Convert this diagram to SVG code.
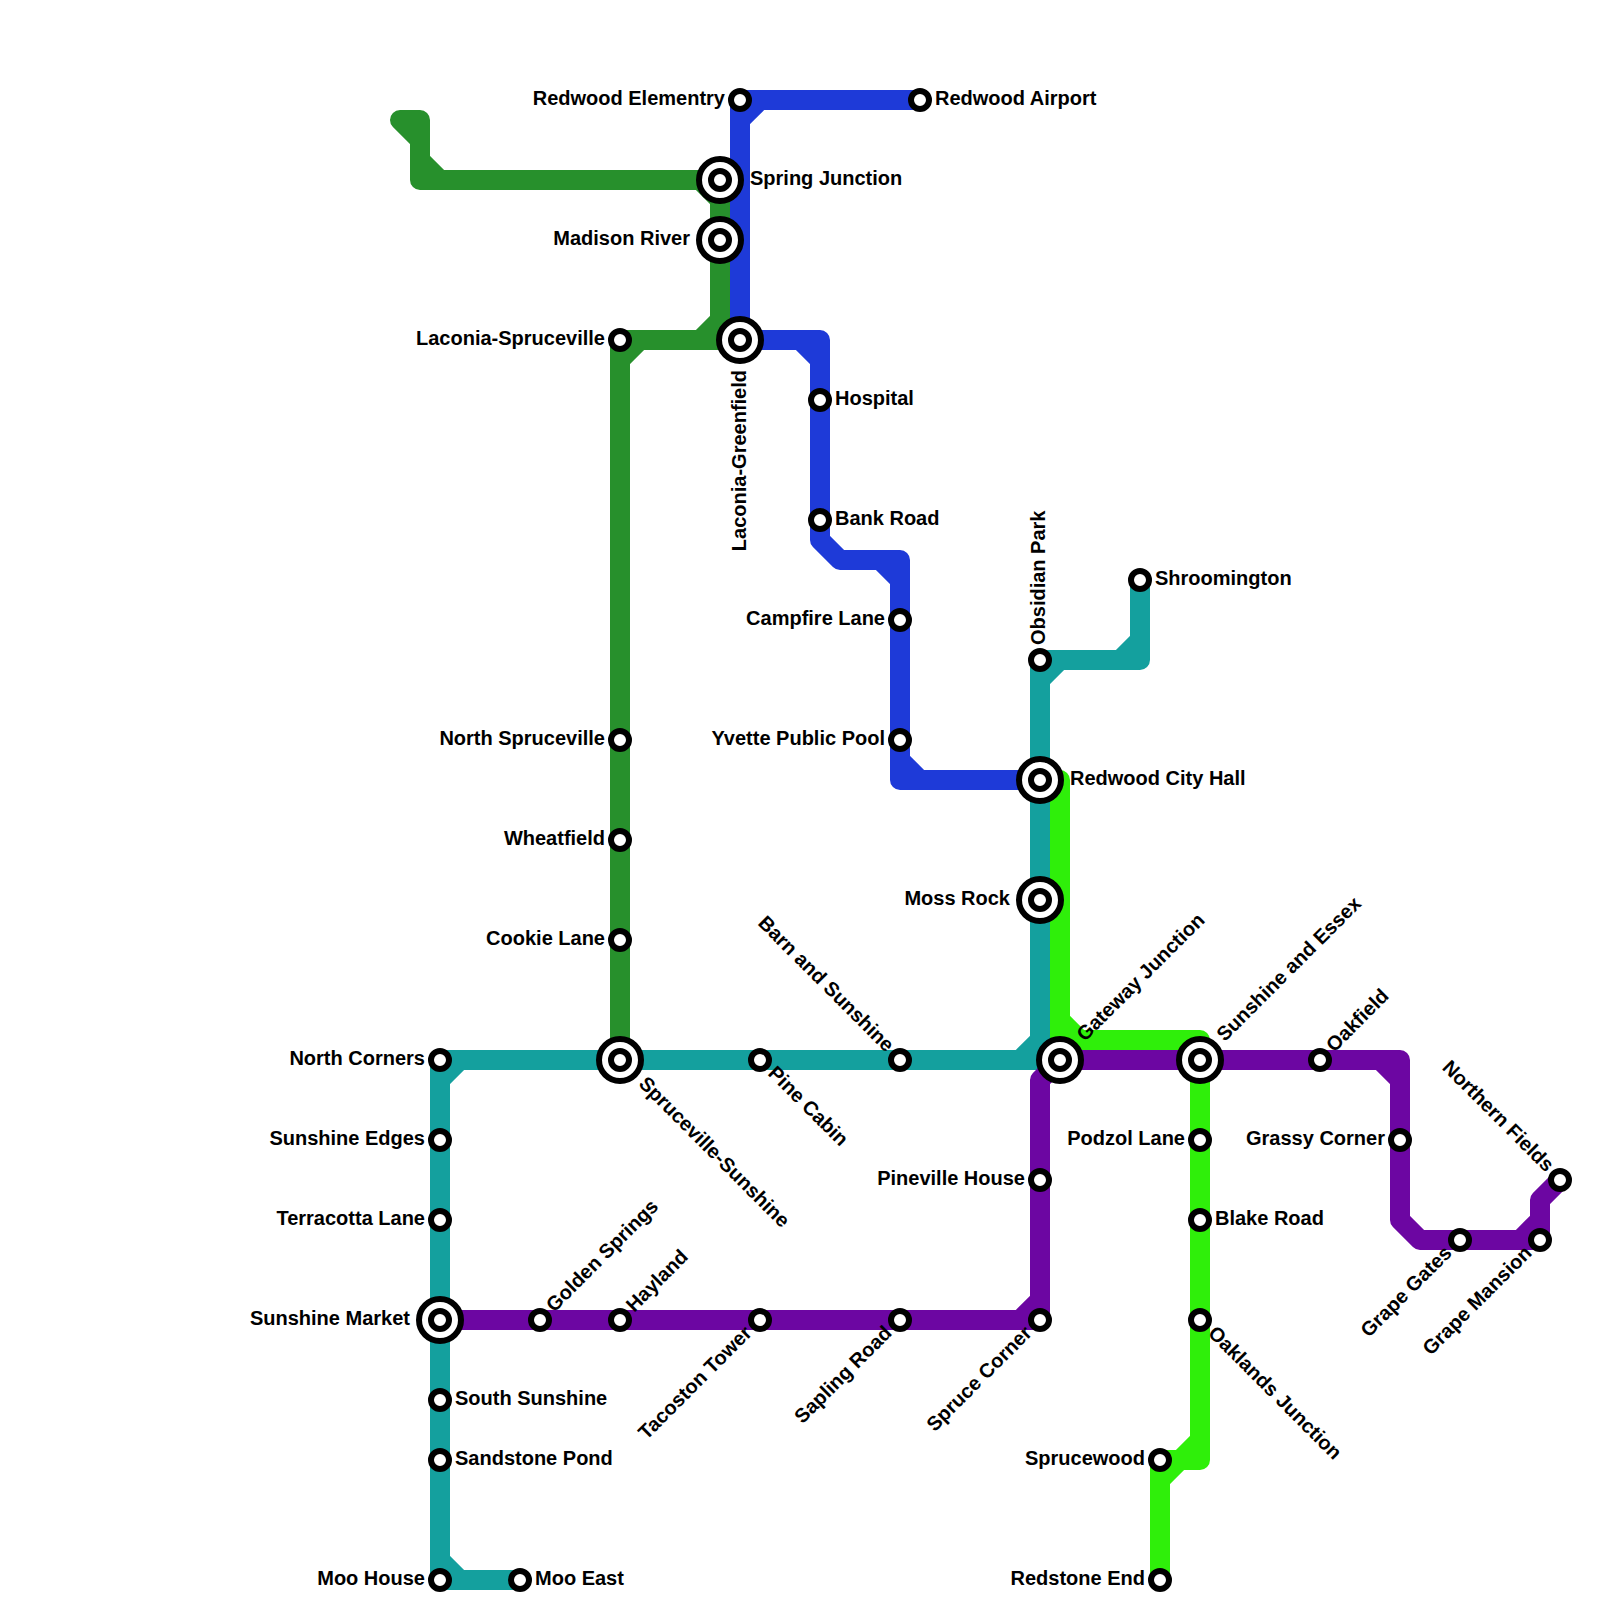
<svg xmlns="http://www.w3.org/2000/svg" width="1600" height="1600" viewBox="0 0 1600 1600">
<style>
.l{fill:none;stroke-width:20;stroke-linejoin:round;stroke-linecap:round}
.s{fill:#fff;stroke:#000;stroke-width:6}
text{font-family:"Liberation Sans",Arial,sans-serif;font-weight:bold;font-size:20px;fill:#000}
.e{text-anchor:end}
</style>
<rect width="1600" height="1600" fill="#fff"/>
<g id="connectors">
<path id="line-dark-green" class="l" stroke="#27902c" d="M720 180V340H620V1060M720 180H420V120H400L420 140M420 160L440 180M700 180L720 200M720 320L700 340M640 340L620 360"/>
<path id="line-blue" class="l" stroke="#1e3ad8" d="M920 100H740V340H820V540L840 560H900V780H1040M760 100L740 120M800 340L820 360M880 560L900 580M900 760L920 780"/>
<path id="line-teal" class="l" stroke="#14a09e" d="M520 1580H440V1060H1040V660H1140V580M440 1560L460 1580M460 1060L440 1080M1020 1060L1040 1040M1040 680L1060 660M1120 660L1140 640"/>
<path id="line-lime" class="l" stroke="#2fef0a" d="M1060 780V1040H1200V1460H1160V1580M1060 1020L1080 1040M1200 1440L1180 1460M1180 1460L1160 1480"/>
<path id="line-purple" class="l" stroke="#6c06a2" d="M440 1320H1040V1080L1060 1060H1400V1220L1420 1240H1540V1200L1560 1180M1020 1320L1040 1300M1380 1060L1400 1080M1520 1240L1540 1220"/>
</g>
<g id="stations">
<defs>
<g id="m"><circle class="s" r="9"/></g>
<g id="x"><circle class="s" r="21"/><circle class="s" r="9"/></g>
</defs>
<g id="spring-junction" transform="translate(720 180)"><use href="#x"/><text x="30" y="5">Spring Junction</text></g>
<g id="madison-river" transform="translate(720 240)"><use href="#x"/><text class="e" x="-30" y="5">Madison River</text></g>
<g id="laconia-greenfield" transform="translate(740 340)"><use href="#x"/><text class="e" transform="rotate(-90)" x="-30" y="6">Laconia-Greenfield</text></g>
<g id="redwood-city-hall" transform="translate(1040 780)"><use href="#x"/><text x="30" y="5">Redwood City Hall</text></g>
<g id="moss-rock" transform="translate(1040 900)"><use href="#x"/><text class="e" x="-30" y="5">Moss Rock</text></g>
<g id="gateway-junction" transform="translate(1060 1060)"><use href="#x"/><text transform="rotate(-45)" x="30" y="5">Gateway Junction</text></g>
<g id="sunshine-and-essex" transform="translate(1200 1060)"><use href="#x"/><text transform="rotate(-45)" x="30" y="5">Sunshine and Essex</text></g>
<g id="spruceville-sunshine" transform="translate(620 1060)"><use href="#x"/><text transform="rotate(45)" x="30" y="5">Spruceville-Sunshine</text></g>
<g id="sunshine-market" transform="translate(440 1320)"><use href="#x"/><text class="e" x="-30" y="5">Sunshine Market</text></g>
<g id="redwood-elementry" transform="translate(740 100)"><use href="#m"/><text class="e" x="-15" y="5">Redwood Elementry</text></g>
<g id="redwood-airport" transform="translate(920 100)"><use href="#m"/><text x="15" y="5">Redwood Airport</text></g>
<g id="laconia-spruceville" transform="translate(620 340)"><use href="#m"/><text class="e" x="-15" y="5">Laconia-Spruceville</text></g>
<g id="north-spruceville" transform="translate(620 740)"><use href="#m"/><text class="e" x="-15" y="5">North Spruceville</text></g>
<g id="wheatfield" transform="translate(620 840)"><use href="#m"/><text class="e" x="-15" y="5">Wheatfield</text></g>
<g id="cookie-lane" transform="translate(620 940)"><use href="#m"/><text class="e" x="-15" y="5">Cookie Lane</text></g>
<g id="hospital" transform="translate(820 400)"><use href="#m"/><text x="15" y="5">Hospital</text></g>
<g id="bank-road" transform="translate(820 520)"><use href="#m"/><text x="15" y="5">Bank Road</text></g>
<g id="campfire-lane" transform="translate(900 620)"><use href="#m"/><text class="e" x="-15" y="5">Campfire Lane</text></g>
<g id="yvette-public-pool" transform="translate(900 740)"><use href="#m"/><text class="e" x="-15" y="5">Yvette Public Pool</text></g>
<g id="obsidian-park" transform="translate(1040 660)"><use href="#m"/><text transform="rotate(-90)" x="15" y="5">Obsidian Park</text></g>
<g id="shroomington" transform="translate(1140 580)"><use href="#m"/><text x="15" y="5">Shroomington</text></g>
<g id="pine-cabin" transform="translate(760 1060)"><use href="#m"/><text transform="rotate(45)" x="15" y="5">Pine Cabin</text></g>
<g id="barn-and-sunshine" transform="translate(900 1060)"><use href="#m"/><text class="e" transform="rotate(45)" x="-15" y="5">Barn and Sunshine</text></g>
<g id="north-corners" transform="translate(440 1060)"><use href="#m"/><text class="e" x="-15" y="5">North Corners</text></g>
<g id="sunshine-edges" transform="translate(440 1140)"><use href="#m"/><text class="e" x="-15" y="5">Sunshine Edges</text></g>
<g id="terracotta-lane" transform="translate(440 1220)"><use href="#m"/><text class="e" x="-15" y="5">Terracotta Lane</text></g>
<g id="south-sunshine" transform="translate(440 1400)"><use href="#m"/><text x="15" y="5">South Sunshine</text></g>
<g id="sandstone-pond" transform="translate(440 1460)"><use href="#m"/><text x="15" y="5">Sandstone Pond</text></g>
<g id="moo-house" transform="translate(440 1580)"><use href="#m"/><text class="e" x="-15" y="5">Moo House</text></g>
<g id="moo-east" transform="translate(520 1580)"><use href="#m"/><text x="15" y="5">Moo East</text></g>
<g id="golden-springs" transform="translate(540 1320)"><use href="#m"/><text transform="rotate(-45)" x="15" y="5">Golden Springs</text></g>
<g id="hayland" transform="translate(620 1320)"><use href="#m"/><text transform="rotate(-45)" x="15" y="5">Hayland</text></g>
<g id="tacoston-tower" transform="translate(760 1320)"><use href="#m"/><text class="e" transform="rotate(-45)" x="-15" y="5">Tacoston Tower</text></g>
<g id="sapling-road" transform="translate(900 1320)"><use href="#m"/><text class="e" transform="rotate(-45)" x="-15" y="5">Sapling Road</text></g>
<g id="spruce-corner" transform="translate(1040 1320)"><use href="#m"/><text class="e" transform="rotate(-45)" x="-15" y="5">Spruce Corner</text></g>
<g id="pineville-house" transform="translate(1040 1180)"><use href="#m"/><text class="e" x="-15" y="5">Pineville House</text></g>
<g id="podzol-lane" transform="translate(1200 1140)"><use href="#m"/><text class="e" x="-15" y="5">Podzol Lane</text></g>
<g id="blake-road" transform="translate(1200 1220)"><use href="#m"/><text x="15" y="5">Blake Road</text></g>
<g id="oaklands-junction" transform="translate(1200 1320)"><use href="#m"/><text transform="rotate(45)" x="15" y="5">Oaklands Junction</text></g>
<g id="sprucewood" transform="translate(1160 1460)"><use href="#m"/><text class="e" x="-15" y="5">Sprucewood</text></g>
<g id="redstone-end" transform="translate(1160 1580)"><use href="#m"/><text class="e" x="-15" y="5">Redstone End</text></g>
<g id="oakfield" transform="translate(1320 1060)"><use href="#m"/><text transform="rotate(-45)" x="15" y="5">Oakfield</text></g>
<g id="grassy-corner" transform="translate(1400 1140)"><use href="#m"/><text class="e" x="-15" y="5">Grassy Corner</text></g>
<g id="grape-gates" transform="translate(1460 1240)"><use href="#m"/><text class="e" transform="rotate(-45)" x="-15" y="5">Grape Gates</text></g>
<g id="grape-mansion" transform="translate(1540 1240)"><use href="#m"/><text class="e" transform="rotate(-45)" x="-15" y="5">Grape Mansion</text></g>
<g id="northern-fields" transform="translate(1560 1180)"><use href="#m"/><text class="e" transform="rotate(45)" x="-15" y="5">Northern Fields</text></g>
</g>
</svg>
